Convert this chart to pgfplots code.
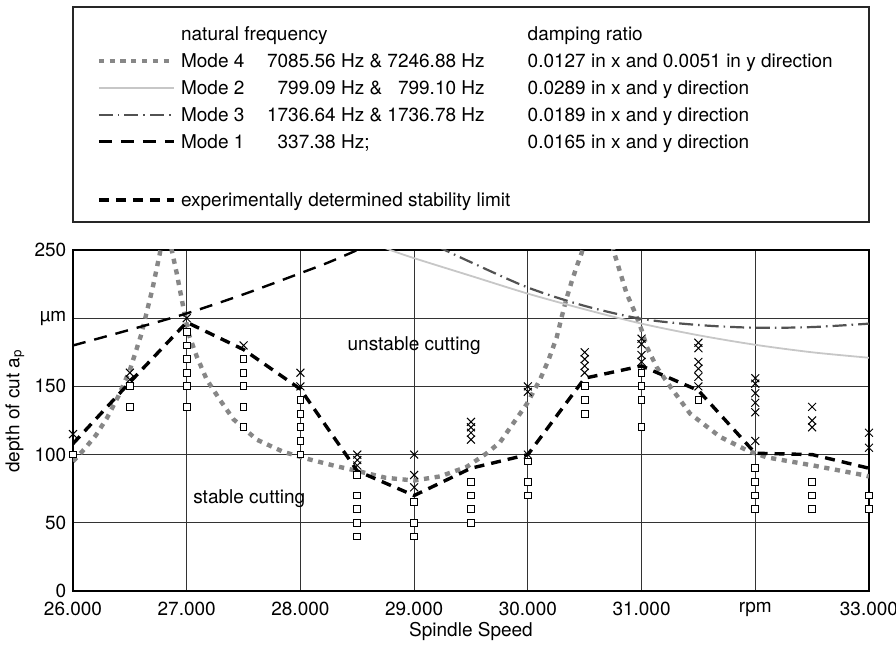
\documentclass[border=0pt]{standalone}
\usepackage{fontspec}
\setmainfont{TeX Gyre Heros}
\usepackage{pgfplots}
\pgfplotsset{compat=1.18}

% stable test cuts (squares)
\pgfplotstableread{
x y
26000 100
26500 150
26500 135
27000 190
27000 180
27000 170
27000 160
27000 150
27000 135
27500 170
27500 160
27500 150
27500 135
27500 120
28000 140
28000 130
28000 120
28000 110
28000 100
28500 85
28500 70
28500 60
28500 50
28500 40
29000 65
29000 50
29000 40
29500 80
29500 70
29500 60
29500 50
30000 95
30000 80
30000 70
30500 150
30500 140
30500 130
31000 160
31000 150
31000 140
31000 120
31500 140
32000 90
32000 80
32000 70
32000 60
32500 80
32500 70
32500 60
33000 70
33000 60
}\stablecuts

% chatter test cuts (crosses)
\pgfplotstableread{
x y
26000 115
26500 160
26500 155
27000 200
27500 180
28000 160
28000 150
28500 100
28500 96
28500 92
29000 100
29000 85
29000 76
29500 124
29500 120
29500 116
29500 111
30000 150
30000 146
30000 100
30500 175
30500 170
30500 165
30500 160
31000 185
31000 181
31000 173
31000 168
31500 182
31500 178
31500 168
31500 163
31500 157
31500 150
32000 156
32000 152
32000 145
32000 138
32000 131
32000 110
32500 135
32500 125
32500 120
33000 116
33000 105
}\unstablecuts

\begin{document}
\fontsize{9.5pt}{11.4pt}\selectfont
\begin{tikzpicture}
\useasboundingbox (-36.5pt,-27.5pt) rectangle (411.5pt,295.5pt);
\begin{axis}[
  at={(0,0)}, anchor=south west,
  scale only axis, width=398pt, height=170.5pt,
  xmin=26000, xmax=33000, ymin=0, ymax=250,
  xtick={26000,27000,...,33000},
  xticklabels={26.000,27.000,28.000,29.000,30.000,31.000,rpm,33.000},
  ytick={0,50,...,250},
  yticklabels={0,50,100,150,µm,250},
  scaled x ticks=false,
  major tick length=0pt,
  grid=major,
  major grid style={black!80, line width=0.45pt},
  axis line style={black, line width=0.9pt},
  xlabel={Spindle Speed},
  ylabel={depth of cut a\textsubscript{p}},
  xlabel style={at={(axis description cs:0.5,-0.12)}, anchor=center},
  ylabel style={at={(axis description cs:-0.073,0.528)}, anchor=center},
  x tick label style={yshift=-2.2pt},
  legend cell align=left,
  legend style={at={(axis description cs:0.02977,1.6727)}, anchor=north west,
    draw=none, fill=none, inner sep=0pt, outer sep=0pt, row sep=0pt, column sep=2.5pt,
    nodes={inner xsep=0pt, inner ysep=1.425pt, text height=8.6pt, text depth=2pt}},
  legend image code/.code={\draw[#1] (0pt,0pt) -- (37.5pt,0pt);},
]

\addlegendimage{empty legend}
\addlegendentry{\makebox[173.3pt][l]{natural frequency}damping ratio}

% Mode 4
\addplot[black!47, line width=2.2pt, dash pattern=on 2.6pt off 2.8pt] coordinates {
(26000,95) (26100,104) (26200,114) (26300,127) (26400,143) (26500,162)
(26600,188) (26700,222) (26765,248) (26790,262) (26820,280) (26850,262)
(26868,250) (26912,233) (26970,208) (27015,189) (27088,172) (27176,155)
(27293,140) (27410,126) (27615,111) (27850,102) (28055,97) (28290,92)
(28500,88) (28750,83) (29000,81) (29228,84) (29463,91) (29639,101)
(29755,109) (29872,123) (29990,137) (30107,155) (30180,169) (30254,186)
(30298,201) (30342,215) (30386,227) (30430,238) (30474,248) (30550,275)
(30615,300) (30690,272) (30752,250) (30825,230) (30869,218) (30943,204)
(31002,191) (31046,179) (31134,164) (31251,150) (31427,130) (31691,113)
(31930,103) (32100,98) (32510,92) (32950,85) (33000,84)};
\addlegendentry{\makebox[43pt][l]{Mode 4}\makebox[130.3pt][l]{7085.56 Hz \& 7246.88 Hz}0.0127 in x and 0.0051 in y direction}

% Mode 2
\addplot[black!22, line width=0.9pt, smooth] coordinates {
(28700,253) (28790,250) (29000,244) (29500,231) (30000,218) (30500,206.5)
(31000,196) (31500,187.5) (32000,180.5) (32500,175) (33000,171)};
\addlegendentry{\makebox[43pt][l]{Mode 2}\makebox[130.3pt][l]{\hphantom{0}799.09 Hz \& \hphantom{0}799.10 Hz}0.0289 in x and y direction}

% Mode 3
\addplot[black!68, line width=1.1pt, dash pattern=on 7pt off 2.5pt on 0.8pt off 2.5pt, smooth] coordinates {
(29200,253) (29270,250) (29500,241) (30000,222.5) (30500,209) (31000,199.5)
(31500,195) (32000,193) (32500,193.5) (33000,196)};
\addlegendentry{\makebox[43pt][l]{Mode 3}\makebox[130.3pt][l]{1736.64 Hz \& 1736.78 Hz}0.0189 in x and y direction}

% Mode 1
\addplot[black, line width=1.2pt, dash pattern=on 6.5pt off 4.5pt, smooth] coordinates {
(26000,180) (26500,191.5) (27000,203.5) (27500,217.5) (28000,233)
(28250,241) (28500,250) (28700,258)};
\addlegendentry{\makebox[43pt][l]{Mode 1}\makebox[130.3pt][l]{\hphantom{0}337.38 Hz;}0.0165 in x and y direction}

\addlegendimage{empty legend}
\addlegendentry[text depth=4.3pt]{}

% experimentally determined stability limit
\addplot[black, line width=1.7pt, dash pattern=on 5pt off 3.5pt] coordinates {
(26000,108) (26500,153) (27000,197) (27500,177) (28000,148) (28500,88)
(29000,70) (29500,90) (30000,100) (30500,156) (31000,165) (31500,147)
(32000,101) (32500,100) (33000,90)};
\addlegendentry{experimentally determined stability limit}

\addplot[forget plot, only marks, mark=square*, mark size=1.7pt,
  mark options={fill=white, draw=black, line width=0.5pt, solid}] table[x=x, y=y] {\stablecuts};
\addplot[forget plot, only marks, mark=x, mark size=2.8pt,
  mark options={black, line width=0.5pt, solid}] table[x=x, y=y] {\unstablecuts};

\node at (axis cs:29000,180) {unstable cutting};
\node at (axis cs:27550,68) {stable cutting};
\end{axis}
\draw[black!85, line width=0.6pt] (0pt,184.5pt) rectangle (398pt,292pt);
\end{tikzpicture}
\end{document}
